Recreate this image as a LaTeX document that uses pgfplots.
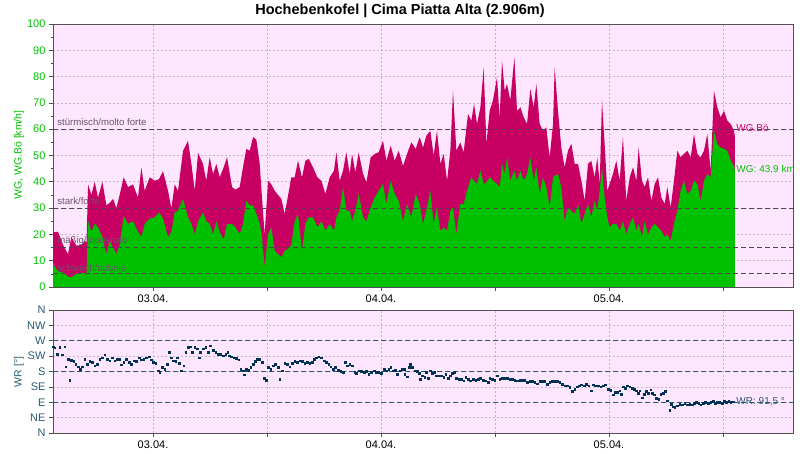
\documentclass[border=0pt]{standalone}
\usepackage{pgfplots}
\pgfplotsset{compat=1.18}
\usepackage{pgfplotstable}
\usepackage{fontspec}
\setmainfont{Liberation Sans}
\definecolor{bgpink}{RGB}{255,230,255}
\definecolor{gustc}{RGB}{200,0,100}
\definecolor{meanc}{RGB}{0,192,0}
\definecolor{dirc}{RGB}{0,50,85}
\definecolor{dirline}{RGB}{40,90,115}
\definecolor{thr}{RGB}{85,65,85}
\definecolor{thrtext}{RGB}{105,85,105}
\definecolor{gridc}{RGB}{200,180,200}
\definecolor{framec}{RGB}{80,80,80}

\pgfplotstableread{
h gust mean
-10.53 20.8 8.7
-10.00 21 6
-9.47 16 5.5
-8.95 12.5 4
-8.60 19 3.7
-8.07 15.7 5
-7.54 16 5.5
-7.19 17.6 5.2
-7.00 17 5.5
-6.84 39 25
-6.49 35 21
-6.14 40 24
-5.79 34 22.7
-5.33 40 19
-4.91 31 12.5
-4.56 32 17.6
-4.21 33.5 15
-3.86 30 12.5
-3.51 35 16
-3.09 41.7 27
-2.63 38 24
-2.11 39 25
-1.58 34 21
-1.23 45.5 19
-0.88 36.6 24
-0.35 41.7 26
0.18 40.4 26.5
0.63 41 28.4
1.05 44 26
1.58 36.6 19
1.93 30 21
2.28 39 28.4
2.63 36.6 29
3.16 51.8 33.5
3.68 55.6 26.5
4.04 46.8 24
4.39 36.6 20
4.74 51 25
5.26 46.8 28.4
5.61 40.4 25
5.96 49.3 24
6.32 43 20
6.67 46.8 25
7.02 41.7 21
7.44 45.5 18
7.79 49.3 24
8.32 38 24
8.67 37 22.7
9.12 38 20
9.47 45.5 24
9.82 52.5 32.8
10.18 51.8 31
10.53 57 31
10.88 56 27.8
11.23 46.8 24
11.47 34 19
11.75 20 7.5
12.11 40.4 20
12.46 39 22.7
12.81 36.6 13.8
13.16 35 12.5
13.51 33.5 11.3
13.86 27.8 13.8
14.21 34.7 14.4
14.56 41.7 16
14.91 41.7 25
15.26 48 27.8
15.68 41.7 13.8
16.04 48 24
16.39 48.7 26.5
16.84 45.5 26.5
17.30 41.7 22.7
17.72 40.4 25
18.14 35.4 21.4
18.60 41.7 24
19.05 44.2 21.4
19.30 51.2 26.5
19.65 40.4 29
20.00 44.2 37.9
20.35 51.2 29
20.70 43 29
20.95 50.6 25
21.30 43.6 29
21.65 51.2 35.4
22.11 43 26.5
22.46 39.8 25
22.91 49.3 30.3
23.33 50.6 34
23.75 51.2 36.6
24.21 55.6 39.2
24.56 48 31.6
25.02 53.7 40.4
25.44 48 35.4
25.86 51.8 32.8
26.32 46 25
26.74 50.6 31.6
27.19 55 26.5
27.65 52.5 35.4
28.07 57 31.6
28.42 53 24
28.77 57.5 29
29.19 59.4 36.6
29.54 50 24
29.89 59.4 30.3
30.25 46.8 21.4
30.60 50.6 22.7
30.95 40.4 21.4
31.30 51.8 29
31.58 74.6 30.3
31.93 51.8 20
32.35 55 31.6
32.70 51.2 31.6
33.16 65.8 37.9
33.51 63.2 41.7
33.79 69.6 40.4
34.11 62 39.2
34.46 68.3 44.2
34.81 83.5 39.2
35.09 54.4 39.8
35.44 67 41.7
35.79 71 40.4
36.21 79.7 39.2
36.49 64.5 37.9
36.74 86 46.8
37.02 74.6 43
37.26 77.2 49.3
37.61 71 40.4
38.04 87.3 44.2
38.32 67 40.4
38.67 68.3 44.2
39.02 64.5 40.4
39.37 62 43
39.72 75.3 49.3
40.07 68.3 40.4
40.35 77.2 45.5
40.70 62 35.4
41.05 59.4 41.7
41.40 60.7 37.9
41.75 49.3 30.3
42.11 62 41.7
42.28 83.5 42.3
42.63 67 43
42.98 53 37.9
43.33 45.5 25
43.68 51.8 30.3
44.04 54.4 29
44.39 46.8 27.8
44.74 46.8 31.6
45.09 40.4 24
45.44 32.8 27.8
45.79 46.8 31.6
46.14 48 26.5
46.49 41.7 32.8
46.77 49.3 29
47.02 39.2 36.6
47.26 71 45.5
47.54 54.4 34
47.82 36.6 26.5
48.07 39.2 22.7
48.42 43 24
48.77 48 24
49.12 40.4 21.4
49.47 57 25
49.82 32.8 20
50.18 41.7 24
50.53 45.5 26.5
50.88 40.4 21.4
51.12 53 24
51.47 40.4 19
51.75 38 25
52.11 41.7 20
52.46 32.8 22.7
52.81 39.2 24
53.16 41.7 22.7
53.51 34 21.4
53.86 31.6 19
54.14 38 20
54.49 30.3 17.6
54.84 40.4 24
55.19 51.8 29
55.54 49.3 36.6
55.89 50.6 40.4
56.25 51.8 35.4
56.60 49.3 36.6
56.95 58.2 40.4
57.30 50.6 39.2
57.65 49.3 32.8
58.00 51.8 40.4
58.35 58.2 43
58.70 44.2 41.7
59.05 74.6 59.4
59.40 68.3 54.4
59.75 64.5 53
60.11 67 52.5
60.46 63.2 51.8
60.81 62 48
61.16 59.4 46
61.26 57 44
}\windtable

\pgfplotstableread{
h dir
-10.53 252.7
-10.35 249
-10.11 231
-9.82 251
-9.54 229
-9.30 252.7
-9.19 194
-8.95 216
-8.77 155
-8.60 213.7
-8.35 210
-8.14 202
-7.89 194
-7.65 187
-7.44 194
-7.19 216
-6.95 202
-6.67 210
-6.39 207
-6.14 197
-5.89 202
-5.61 216
-5.33 221
-5.09 229
-4.84 216
-4.56 212
-4.28 221
-4.04 212
-3.79 216
-3.58 216
-3.33 200
-3.09 207
-2.81 216
-2.53 207
-2.28 202
-2.04 212
-1.75 210
-1.47 221
-1.23 214
-0.98 216
-0.70 221
-0.42 223
-0.18 214
0.00 207
0.28 204
0.53 182
0.70 178
0.98 192
1.23 187
1.47 202
1.68 236
1.93 221
2.11 212
2.39 210
2.53 221
2.74 204
2.98 182
3.23 197
3.44 236
3.68 251
3.93 253
4.14 236
4.39 251
4.63 246
4.84 221
4.98 236
5.26 246
5.54 251
5.79 236
6.04 256
6.32 243
6.60 236
6.84 231
7.09 231
7.37 226
7.65 231
7.86 236
8.00 226
8.25 223
8.53 221
8.77 219.5
9.02 214
9.23 187
9.47 182
9.58 171
9.82 187
10.07 184
10.28 192
10.53 202
10.77 210
10.98 216
11.23 216
11.47 207
11.68 161
11.93 155
12.11 192
12.39 187
12.63 197
12.88 202
13.16 192
13.33 158
13.58 182
13.86 204
14.14 202
14.39 194
14.63 204
14.91 210
15.19 207
15.44 212
15.68 210
15.96 204
16.25 207
16.49 204
16.74 207
16.95 216
17.19 221
17.44 223
17.72 221
18.00 212
18.25 207
18.49 202
18.70 194
18.95 187
19.19 192
19.47 184
19.75 180.5
20.00 177.6
20.25 207
20.46 197
20.70 202
20.95 197
21.23 177.6
21.40 174.6
21.65 182
21.93 180.5
22.21 177.6
22.46 180.5
22.70 172.7
22.98 177.6
23.26 182
23.51 177.6
23.75 177.6
24.04 174.6
24.32 187
24.56 182
24.81 187
25.02 192
25.26 182
25.51 184
25.72 172.7
25.96 182
26.21 187
26.42 187
26.49 172.7
26.74 165
26.95 192
27.09 202
27.30 192
27.54 182
27.79 180.5
28.00 174.6
28.14 158
28.35 168
28.60 163
28.77 177.6
28.95 161
29.19 182
29.40 174.6
29.65 177.6
29.82 168
30.11 168
30.35 168
30.60 163
30.81 172.7
31.05 161
31.30 168
31.51 174.6
31.75 177.6
31.93 161
32.21 158
32.46 158
32.70 153
32.91 163
33.16 158
33.40 153
33.68 158
33.96 155
34.21 158
34.46 161
34.74 155
35.02 153
35.26 148
35.44 161
35.72 158
35.96 155
36.21 168
36.49 158
36.77 161
37.02 161
37.26 161
37.54 158
37.82 158
38.07 155
38.32 153
38.60 155
38.88 155
39.12 155
39.37 148
39.65 151
39.93 151
40.18 148
40.42 145
40.70 151
40.98 151
41.23 151
41.47 143
41.75 148
42.04 151
42.28 151
42.53 151
42.81 148
43.09 143
43.33 138.5
43.58 138.5
43.86 133.7
44.14 122
44.39 128.8
44.63 135.6
44.84 138.5
45.09 141.5
45.37 138.5
45.61 143
45.86 138.5
46.14 124
46.32 141.5
46.56 138.5
46.84 138.5
47.12 135.6
47.37 138.5
47.61 141.5
47.89 128.8
48.18 125.9
48.42 112
48.67 119
48.88 119
49.12 124
49.30 114
49.47 135.6
49.72 131.7
49.93 138.5
50.18 135.6
50.42 131.7
50.63 128.8
50.88 124
51.05 116
51.23 124
51.47 104
51.68 114
51.93 122
52.11 116
52.39 126
52.53 116
52.74 112
52.98 102
53.23 99.5
53.44 114
53.68 116
53.93 122
54.14 94.6
54.39 67
54.56 85
54.74 77
54.91 75
55.19 80
55.44 85
55.68 83
55.96 87
56.25 83
56.49 85
56.74 83
56.95 87
57.19 90
57.44 87
57.65 83
57.89 87
58.14 90
58.42 87
58.70 90
58.95 92.7
59.19 87
59.40 90
59.65 90
59.89 87
60.11 92.7
60.35 90
60.60 92.7
60.81 90
61.05 91.5
}\dirtable

\pgfplotsset{
  mystyle/.style={
    scale only axis,
    width=740pt,
    xmin=-10.53, xmax=67.37,
    xtick={0,12,24,36,48,60},
    xticklabels={03.04.,,04.04.,,05.04.,},
    grid=major,
    major grid style={gridc, dash pattern=on 2pt off 2pt, line width=0.6pt},
    axis background/.style={fill=bgpink},
    axis line style={framec, line width=0.8pt},
    tick style={framec, line width=0.6pt},
    tick align=outside,
    major tick length=4pt,
    minor tick length=2.5pt,
    xtick pos=bottom, ytick pos=left,
    tick label style={font=\fontsize{11}{13}\selectfont},
    xticklabel style={black},
    /pgf/number format/assume math mode=true,
  }
}

\begin{document}
\begin{tikzpicture}[x=1pt,y=1pt]
\useasboundingbox (0,0) rectangle (800,454);

\begin{axis}[mystyle,
  at={(53pt,167pt)}, anchor=south west,
  height=263pt,
  ymin=0, ymax=100,
  ytick={0,10,...,100},
  minor y tick num=1,
  yticklabel style={meanc},
]
\addplot[draw=none, fill=gustc] table[x=h, y=gust] {\windtable} \closedcycle;
\addplot[draw=none, fill=meanc] table[x=h, y=mean] {\windtable} \closedcycle;
\foreach \v in {5,15,30,60} {
  \edef\tmp{\noexpand\draw[thr, dash pattern=on 5pt off 3pt, line width=0.7pt] (axis cs:-10.53,\v) -- (axis cs:67.37,\v);}
  \tmp
}
\node[anchor=west, thrtext, font=\fontsize{9.6}{11}\selectfont, inner sep=0pt] at (axis cs:-10.1,62.8) {stürmisch/molto forte};
\node[anchor=west, thrtext, font=\fontsize{9.6}{11}\selectfont, inner sep=0pt] at (axis cs:-10.1,32.8) {stark/forte};
\node[anchor=west, thrtext, font=\fontsize{9.6}{11}\selectfont, inner sep=0pt] at (axis cs:-10.1,17.6) {mäßig/moderato};
\node[anchor=west, thrtext, font=\fontsize{9.6}{11}\selectfont, inner sep=0pt] at (axis cs:-10.1,7.3) {schwach/debole};
\node[anchor=west, gustc, font=\fontsize{10}{12}\selectfont, inner sep=0pt] at (axis cs:61.4,60.3) {WG.Bö};
\node[anchor=west, meanc, font=\fontsize{10}{12}\selectfont, inner sep=0pt] at (axis cs:61.4,44.5) {WG: 43,9 km};
\end{axis}

\begin{axis}[mystyle,
  at={(53pt,21pt)}, anchor=south west,
  height=123pt,
  ymin=0, ymax=360,
  ytick={0,45,...,360},
  yticklabels={N,NE,E,SE,S,SW,W,NW,N},
  yticklabel style={dirline},
]
\foreach \v in {90,180,270} {
  \edef\tmp{\noexpand\draw[dirline, dash pattern=on 5pt off 3pt, line width=0.7pt] (axis cs:-10.53,\v) -- (axis cs:67.37,\v);}
  \tmp
}
\addplot[only marks, mark=square*, mark size=0.75pt, dirc] table[x=h, y=dir] {\dirtable};
\node[anchor=west, dirline, font=\fontsize{10}{12}\selectfont, inner sep=0pt] at (axis cs:61.4,92) {WR: 91,5 °};
\end{axis}

\node[font=\bfseries\fontsize{14.5}{17}\selectfont] at (400,443) {Hochebenkofel | Cima Piatta Alta (2.906m)};
\node[rotate=90, meanc, font=\fontsize{10.5}{12}\selectfont] at (19,299) {WG, WG.Bö [km/h]};
\node[rotate=90, dirline, font=\fontsize{10.5}{12}\selectfont] at (19,82) {WR [°]};
\end{tikzpicture}
\end{document}
